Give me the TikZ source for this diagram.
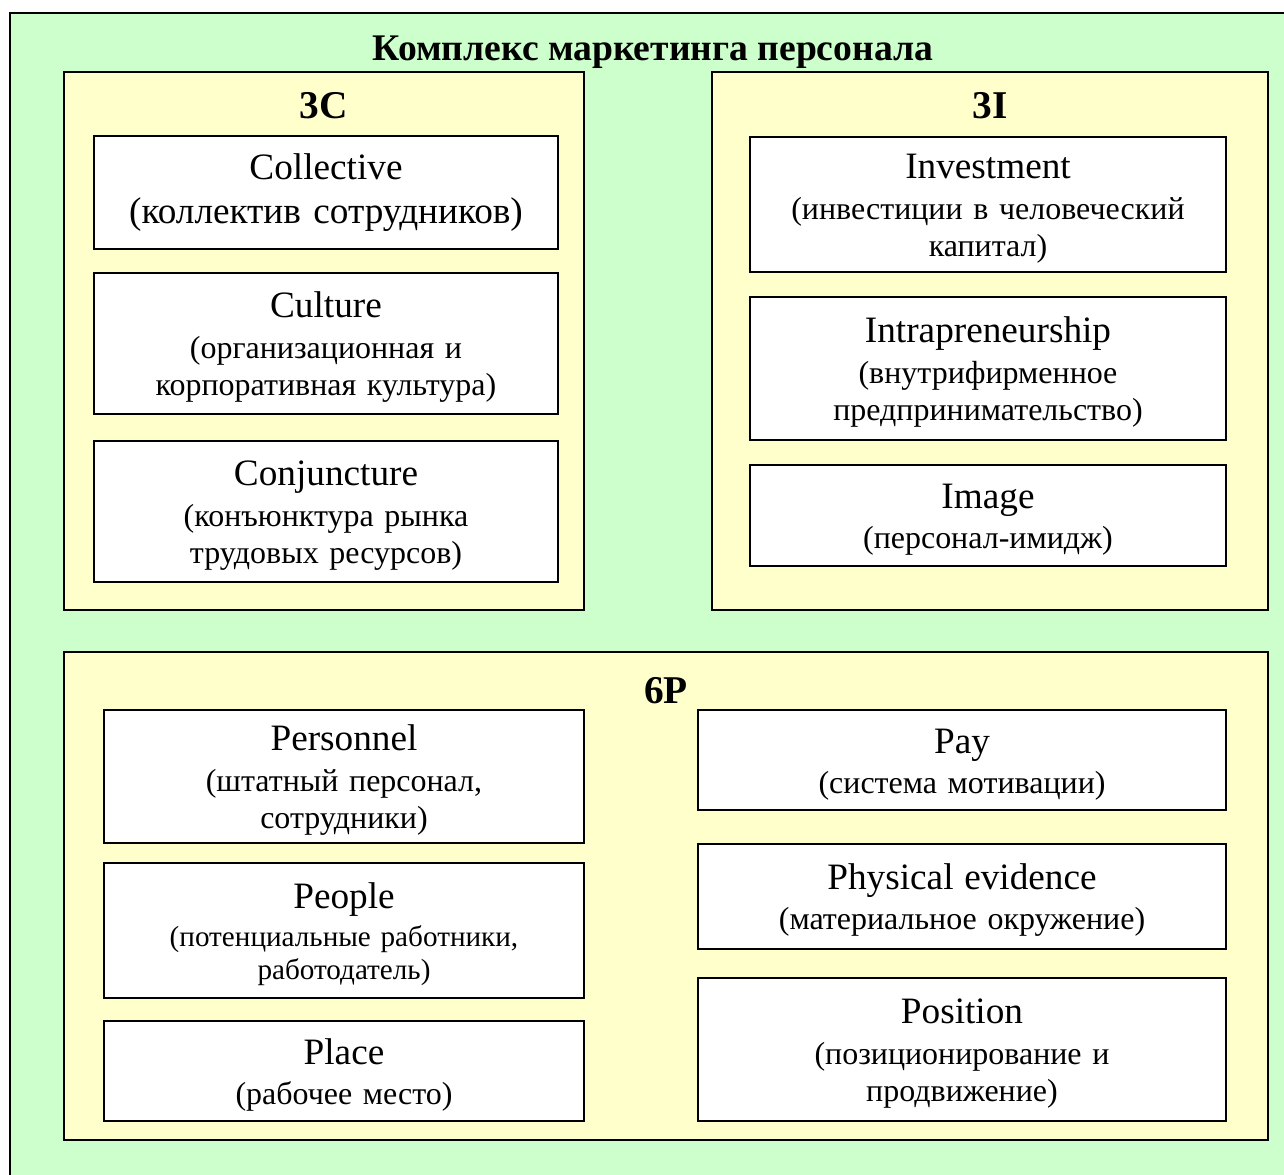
\documentclass[tikz,border=0pt]{standalone}
\usepackage{fontspec}
\setmainfont{Liberation Serif}
\usepackage{tikz}
\usetikzlibrary{positioning}
\definecolor{mixgreen}{HTML}{CCFFCC}
\definecolor{mixyellow}{HTML}{FFFFCC}
\newcommand{\headfont}{\fontsize{21.2}{25}\selectfont}
\newcommand{\subfont}{\fontsize{18.2}{21.5}\selectfont}
\newcommand{\cardtext}[3][1.5pt]{{\headfont\rule{0pt}{19pt}#2}\\[#1]#3}

\begin{document}
\begin{tikzpicture}[
  x=0.02cm, y=-0.02cm,
  panel/.style={draw, line width=1.1pt, fill=mixyellow, inner sep=0pt},
  card/.style={draw, line width=1.1pt, fill=white, inner sep=0pt,
    align=center, font=\subfont},
  heading/.style={font=\bfseries\fontsize{22.4}{26}\selectfont, inner sep=0pt},
]
  \useasboundingbox (0,0) rectangle (1284,1175);
  \draw[line width=1pt, fill=mixgreen] (10,13) rectangle (1295,1185);

  \node[heading, font=\bfseries\fontsize{21.4}{25}\selectfont] (title) at (653,52.5) {Комплекс маркетинга персонала};

  % 3C
  \node[panel, minimum width=10.4cm, minimum height=10.76cm] (p3c) at (324,341) {};
  \node[heading] (h3c) at (324,106) {3C};
  \node[card, minimum width=9.28cm, minimum height=2.26cm, text width=9cm, font=\headfont] (coll) at (326,192.5)
    {Collective\\(коллектив сотрудников)};
  \node[card, minimum width=9.28cm, minimum height=2.82cm, text width=9cm] (cult) at (326,343.5)
    {\cardtext{Culture}{(организационная и\\корпоративная культура)}};
  \node[card, minimum width=9.28cm, minimum height=2.82cm, text width=9cm] (conj) at (326,511.5)
    {\cardtext{Conjuncture}{(конъюнктура рынка\\трудовых ресурсов)}};

  % 3I
  \node[panel, minimum width=11.12cm, minimum height=10.76cm] (p3i) at (990,341) {};
  \node[heading] (h3i) at (990,106) {3I};
  \node[card, minimum width=9.52cm, minimum height=2.70cm, text width=9.2cm] (inv) at (988,204.5)
    {\cardtext{Investment}{(инвестиции в человеческий\\капитал)}};
  \node[card, minimum width=9.52cm, minimum height=2.86cm, text width=9.2cm] (intra) at (988,368.5)
    {\cardtext{Intrapreneurship}{(внутрифирменное\\предпринимательство)}};
  \node[card, minimum width=9.52cm, minimum height=2.02cm, text width=9.2cm] (img) at (988,515.5)
    {\cardtext{Image}{(персонал-имидж)}};

  % 6P
  \node[panel, minimum width=24.08cm, minimum height=9.76cm] (p6p) at (666,896) {};
  \node[heading] (h6p) at (666,691) {6P};
  \node[card, minimum width=9.6cm, minimum height=2.66cm, text width=9.3cm] (pers) at (344,776.5)
    {\cardtext{Personnel}{(штатный персонал,\\сотрудники)}};
  \node[card, minimum width=9.6cm, minimum height=2.70cm, text width=9.3cm,
    font=\fontsize{16.6}{18.6}\selectfont] (peop) at (344,930.5)
    {\cardtext[3pt]{People}{(потенциальные работники,\\работодатель)}};
  \node[card, minimum width=9.6cm, minimum height=2.0cm, text width=9.3cm] (place) at (344,1071)
    {\cardtext{Place}{(рабочее место)}};
  \node[card, minimum width=10.56cm, minimum height=2.0cm, text width=10.2cm] (pay) at (962,760)
    {\cardtext{Pay}{(система мотивации)}};
  \node[card, minimum width=10.56cm, minimum height=2.1cm, text width=10.2cm] (phys) at (962,896.5)
    {\cardtext{Physical evidence}{(материальное окружение)}};
  \node[card, minimum width=10.56cm, minimum height=2.86cm, text width=10.2cm] (posn) at (962,1049.5)
    {\cardtext{Position}{(позиционирование и\\продвижение)}};
\end{tikzpicture}
\end{document}
